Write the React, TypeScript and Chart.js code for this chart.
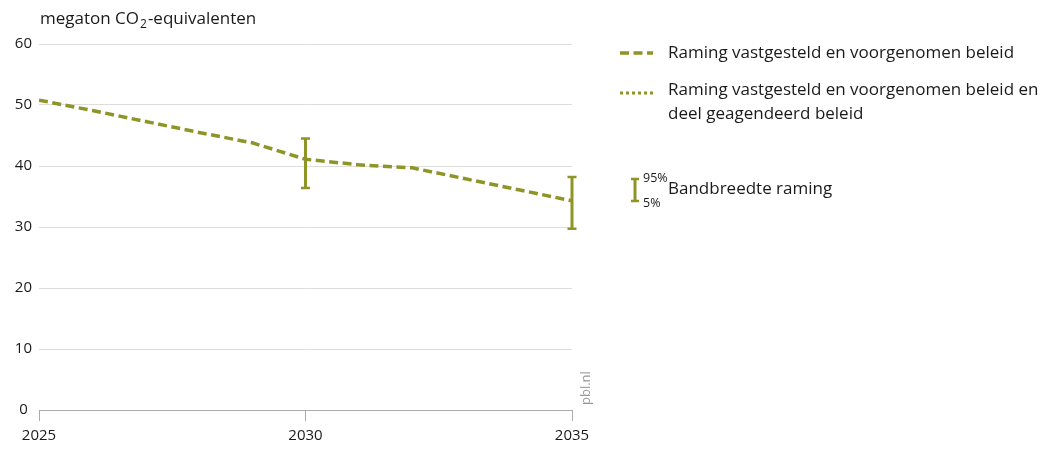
import React, { useEffect, useRef } from "react";
import { Chart, registerables } from "chart.js";

Chart.register(...registerables);

const years = [2025, 2026, 2027, 2028, 2029, 2030, 2031, 2032, 2033, 2034, 2035];
const vastgesteld = [50.8, 49.1, 47.3, 45.5, 43.8, 41.1, 40.2, 39.7, 37.9, 36.1, 34.3];
const geagendeerd: number[] = [];
const errorYears = [2030, 2035];
const p95 = [44.5, 38.2];
const p5 = [36.4, 29.7];
const yTicks = [0, 10, 20, 30, 40, 50, 60];
const xTicks = [2025, 2030, 2035];
const legendLabels = [
  ["Raming vastgesteld en voorgenomen beleid"],
  ["Raming vastgesteld en voorgenomen beleid en", "deel geagendeerd beleid"],
];
const bandLabel = "Bandbreedte raming";
const titleParts = ["megaton CO", "2", "-equivalenten"];
const source = "pbl.nl";

const OLIVE = "#8e9526";
const FONT = "'Open Sans', 'Noto Sans', sans-serif";
const TEXT = "#1a1a1a";

const overlay = {
  id: "overlay",
  afterDatasetsDraw(chart: any) {
    const ctx = chart.ctx;
    const xs = chart.scales.x;
    const ys = chart.scales.y;
    ctx.save();
    ctx.strokeStyle = OLIVE;
    errorYears.forEach((yr, i) => {
      const x = xs.getPixelForValue(yr);
      const t = ys.getPixelForValue(p95[i]);
      const b = ys.getPixelForValue(p5[i]);
      ctx.lineWidth = 3;
      ctx.beginPath();
      ctx.moveTo(x, t);
      ctx.lineTo(x, b);
      ctx.stroke();
      ctx.lineWidth = 2.5;
      ctx.beginPath();
      ctx.moveTo(x - 4.5, t);
      ctx.lineTo(x + 4.5, t);
      ctx.moveTo(x - 4.5, b);
      ctx.lineTo(x + 4.5, b);
      ctx.stroke();
    });
    ctx.restore();
  },
  afterDraw(chart: any) {
    const ctx = chart.ctx;
    ctx.save();
    // title
    ctx.fillStyle = TEXT;
    ctx.textBaseline = "alphabetic";
    ctx.textAlign = "left";
    ctx.font = `17px ${FONT}`;
    let x = 40;
    const by = 24;
    ctx.fillText(titleParts[0], x, by);
    x += ctx.measureText(titleParts[0]).width + 1;
    ctx.font = `12px ${FONT}`;
    ctx.fillText(titleParts[1], x, by + 4);
    x += ctx.measureText(titleParts[1]).width + 1;
    ctx.font = `17px ${FONT}`;
    ctx.fillText(titleParts[2], x, by);

    // legend
    ctx.textBaseline = "middle";
    ctx.font = `17px ${FONT}`;
    // dashed sample
    ctx.strokeStyle = OLIVE;
    ctx.lineWidth = 3.5;
    ctx.setLineDash([9, 4.5]);
    ctx.beginPath();
    ctx.moveTo(620, 53);
    ctx.lineTo(653, 53);
    ctx.stroke();
    ctx.fillText(legendLabels[0][0], 668, 53);
    // dotted sample
    ctx.setLineDash([3, 3]);
    ctx.lineWidth = 3;
    ctx.beginPath();
    ctx.moveTo(620, 93);
    ctx.lineTo(653, 93);
    ctx.stroke();
    ctx.setLineDash([]);
    ctx.fillText(legendLabels[1][0], 668, 90);
    ctx.fillText(legendLabels[1][1], 668, 114);
    // band icon
    ctx.lineWidth = 3;
    ctx.beginPath();
    ctx.moveTo(635, 179);
    ctx.lineTo(635, 201);
    ctx.stroke();
    ctx.lineWidth = 2.5;
    ctx.beginPath();
    ctx.moveTo(631, 179);
    ctx.lineTo(639, 179);
    ctx.moveTo(631, 201);
    ctx.lineTo(639, 201);
    ctx.stroke();
    ctx.font = `12.5px ${FONT}`;
    ctx.fillText("95%", 643, 178);
    ctx.fillText("5%", 643, 203);
    ctx.font = `17px ${FONT}`;
    ctx.fillText(bandLabel, 668, 189);

    // source
    ctx.translate(586, 405);
    ctx.rotate(-Math.PI / 2);
    ctx.fillStyle = "#999";
    ctx.font = `13px ${FONT}`;
    ctx.textBaseline = "middle";
    ctx.fillText(source, 0, 0);
    ctx.restore();
  },
};

export default function App() {
  const ref = useRef<HTMLCanvasElement | null>(null);
  useEffect(() => {
    if (!ref.current) return;
    const chart = new Chart(ref.current, {
      type: "line",
      data: {
        datasets: [
          {
            label: legendLabels[0][0],
            data: years.map((y, i) => ({ x: y, y: vastgesteld[i] })),
            borderColor: OLIVE,
            borderWidth: 3.5,
            borderDash: [9, 4.5],
            pointRadius: 0,
            tension: 0,
            fill: false,
          },
          {
            label: legendLabels[1].join(" "),
            data: geagendeerd.map((v, i) => ({ x: years[i], y: v })),
            borderColor: OLIVE,
            borderWidth: 3,
            borderDash: [3, 3],
            pointRadius: 0,
            fill: false,
          },
        ],
      },
      options: {
        animation: false,
        responsive: true,
        maintainAspectRatio: false,
        layout: { padding: { left: 0, top: 44, right: 470, bottom: 0 } },
        plugins: { legend: { display: false }, tooltip: { enabled: false } },
        scales: {
          x: {
            type: "linear",
            min: xTicks[0],
            max: xTicks[xTicks.length - 1],
            afterBuildTicks: (s: any) => {
              s.ticks = xTicks.map((v) => ({ value: v }));
            },
            afterFit: (s: any) => {
              s.height = 44;
            },
            ticks: {
              callback: (v: any) => String(v),
              font: { family: FONT, size: 15 },
              color: TEXT,
              padding: 6,
              maxRotation: 0,
            },
            grid: {
              drawOnChartArea: false,
              drawTicks: true,
              tickLength: 11,
              tickColor: "#aaa",
              color: "#aaa",
            },
            border: { color: "#aaa", width: 1 },
          },
          y: {
            min: 0,
            max: 60,
            afterBuildTicks: (s: any) => {
              s.ticks = yTicks.map((v) => ({ value: v }));
            },
            afterFit: (s: any) => {
              s.width = 39;
            },
            ticks: {
              font: { family: FONT, size: 15 },
              color: TEXT,
              padding: 7,
              crossAlign: "center",
            },
            grid: { color: "#dddddd", drawTicks: false, lineWidth: 1 },
            border: { display: false },
          },
        },
      },
      plugins: [overlay],
    });
    return () => chart.destroy();
  }, []);
  return (
    <div style={{ position: "fixed", left: 0, top: 0, width: 1042, height: 454, background: "#fff" }}>
      <canvas ref={ref} />
    </div>
  );
}
